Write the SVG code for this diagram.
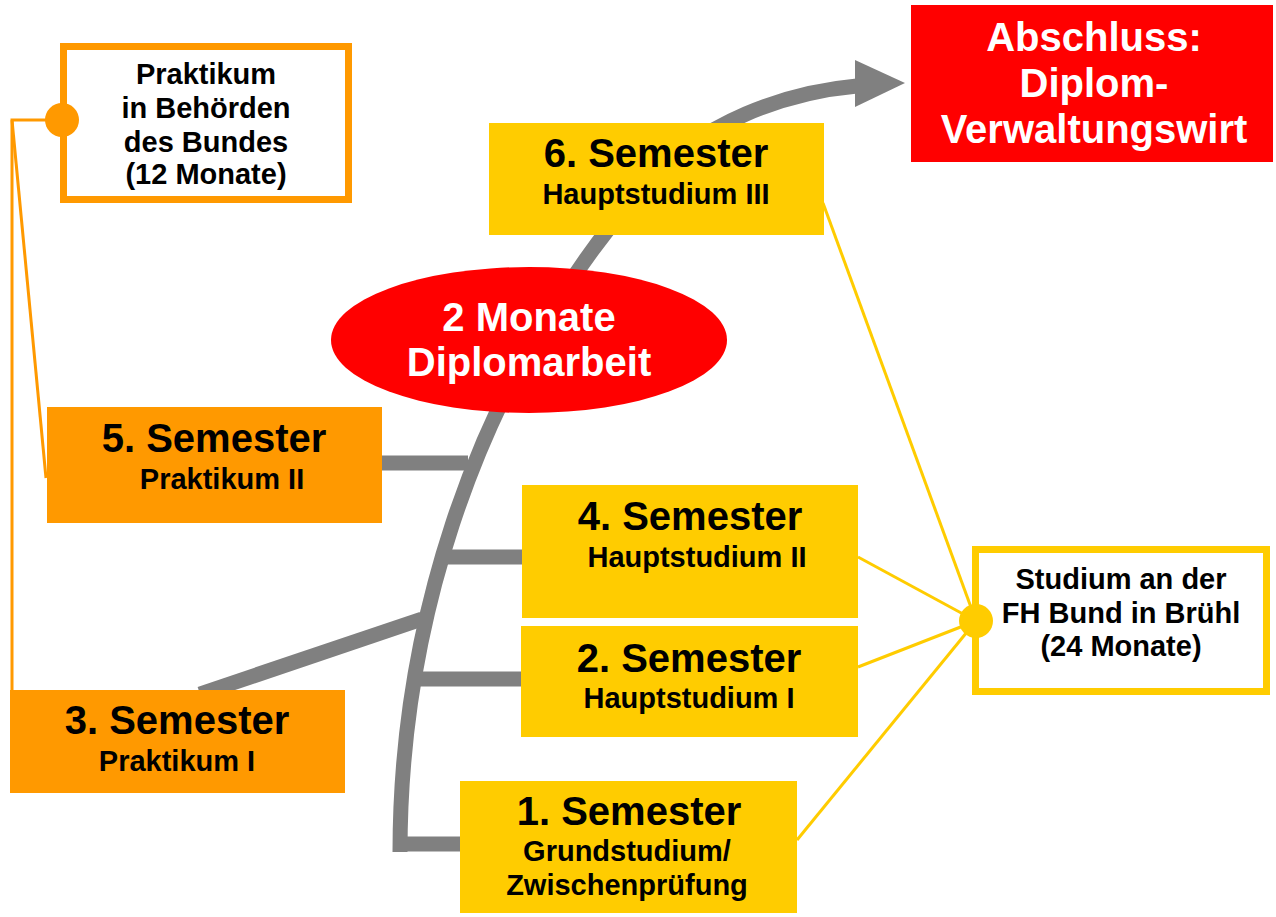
<svg xmlns="http://www.w3.org/2000/svg" width="1276" height="917" viewBox="0 0 1276 917">
<style>
text{font-family:"Liberation Sans",Arial,sans-serif;font-weight:bold;text-anchor:middle;fill:#000}
.t{font-size:40px}
.s{font-size:29px}
.w{fill:#fff}
.gray{fill:none;stroke:#808080;stroke-width:15}
.or{fill:none;stroke:#FF9900;stroke-width:3}
.ye{fill:none;stroke:#FFCC00;stroke-width:3}
.yel{fill:#FFCC00}
.ora{fill:#FF9900}
</style>
<rect width="1276" height="917" fill="#fff"/>
<g id="connectors">
<path class="gray" d="M400 852 C400 650 460 400 640 190 C700 120 790 92 857 86"/>
<polygon points="855,60 905,83 855,107" fill="#808080"/>
<line class="gray" x1="382" y1="463" x2="468" y2="463"/>
<line class="gray" x1="440" y1="557" x2="522" y2="557"/>
<line class="gray" x1="414" y1="679" x2="521" y2="679"/>
<line class="gray" x1="398" y1="844" x2="460" y2="844"/>
<line class="gray" x1="200" y1="694" x2="422" y2="619"/>
<polyline class="or" points="62,120 12,120 12,690"/>
<line class="or" x1="12" y1="120" x2="46" y2="478"/>
<line class="ye" x1="976" y1="621" x2="823" y2="203"/>
<line class="ye" x1="976" y1="621" x2="858" y2="557"/>
<line class="ye" x1="976" y1="621" x2="858" y2="667"/>
<line class="ye" x1="976" y1="621" x2="797" y2="840"/>
</g>
<g id="praktikum">
<rect x="63.5" y="46.5" width="285" height="153" fill="#fff" stroke="#FF9900" stroke-width="7"/>
<text class="s" x="206" y="84">Praktikum</text>
<text class="s" x="206" y="118">in Behörden</text>
<text class="s" x="206" y="152">des Bundes</text>
<text class="s" x="206" y="184">(12 Monate)</text>
</g>
<g id="abschluss">
<rect x="911" y="5" width="362" height="157" fill="#FF0000"/>
<text class="t w" x="1094" y="51">Abschluss:</text>
<text class="t w" x="1094" y="97">Diplom-</text>
<text class="t w" x="1094" y="143">Verwaltungswirt</text>
</g>
<g id="sem6">
<rect class="yel" x="489" y="123" width="335" height="112"/>
<text class="t" x="656" y="167">6. Semester</text>
<text class="s" x="656" y="204">Hauptstudium III</text>
</g>
<g id="diplomarbeit">
<ellipse cx="529" cy="340" rx="198" ry="73" fill="#FF0000"/>
<text class="t w" x="529" y="331">2 Monate</text>
<text class="t w" x="529" y="376">Diplomarbeit</text>
</g>
<g id="sem5">
<rect class="ora" x="47" y="407" width="335" height="116"/>
<text class="t" x="214" y="452">5. Semester</text>
<text class="s" x="222" y="489">Praktikum II</text>
</g>
<g id="sem4">
<rect class="yel" x="522" y="485" width="336" height="133"/>
<text class="t" x="690" y="530">4. Semester</text>
<text class="s" x="697" y="567">Hauptstudium II</text>
</g>
<g id="sem2">
<rect class="yel" x="521" y="626" width="337" height="111"/>
<text class="t" x="689" y="672">2. Semester</text>
<text class="s" x="689" y="708">Hauptstudium I</text>
</g>
<g id="sem3">
<rect class="ora" x="10" y="690" width="335" height="103"/>
<text class="t" x="177" y="734">3. Semester</text>
<text class="s" x="177" y="771">Praktikum I</text>
</g>
<g id="sem1">
<rect class="yel" x="460" y="781" width="337" height="132"/>
<text class="t" x="629" y="825">1. Semester</text>
<text class="s" x="627" y="861">Grundstudium/</text>
<text class="s" x="627" y="895">Zwischenprüfung</text>
</g>
<g id="studium">
<rect x="975.5" y="549.5" width="291" height="142" fill="#fff" stroke="#FFCC00" stroke-width="7"/>
<text class="s" x="1121" y="589">Studium an der</text>
<text class="s" x="1121" y="623">FH Bund in Brühl</text>
<text class="s" x="1121" y="656">(24 Monate)</text>
</g>
<g id="junctions">
<circle cx="62" cy="120" r="17" fill="#FF9900"/>
<circle cx="976" cy="621" r="17" fill="#FFCC00"/>
</g>
</svg>
